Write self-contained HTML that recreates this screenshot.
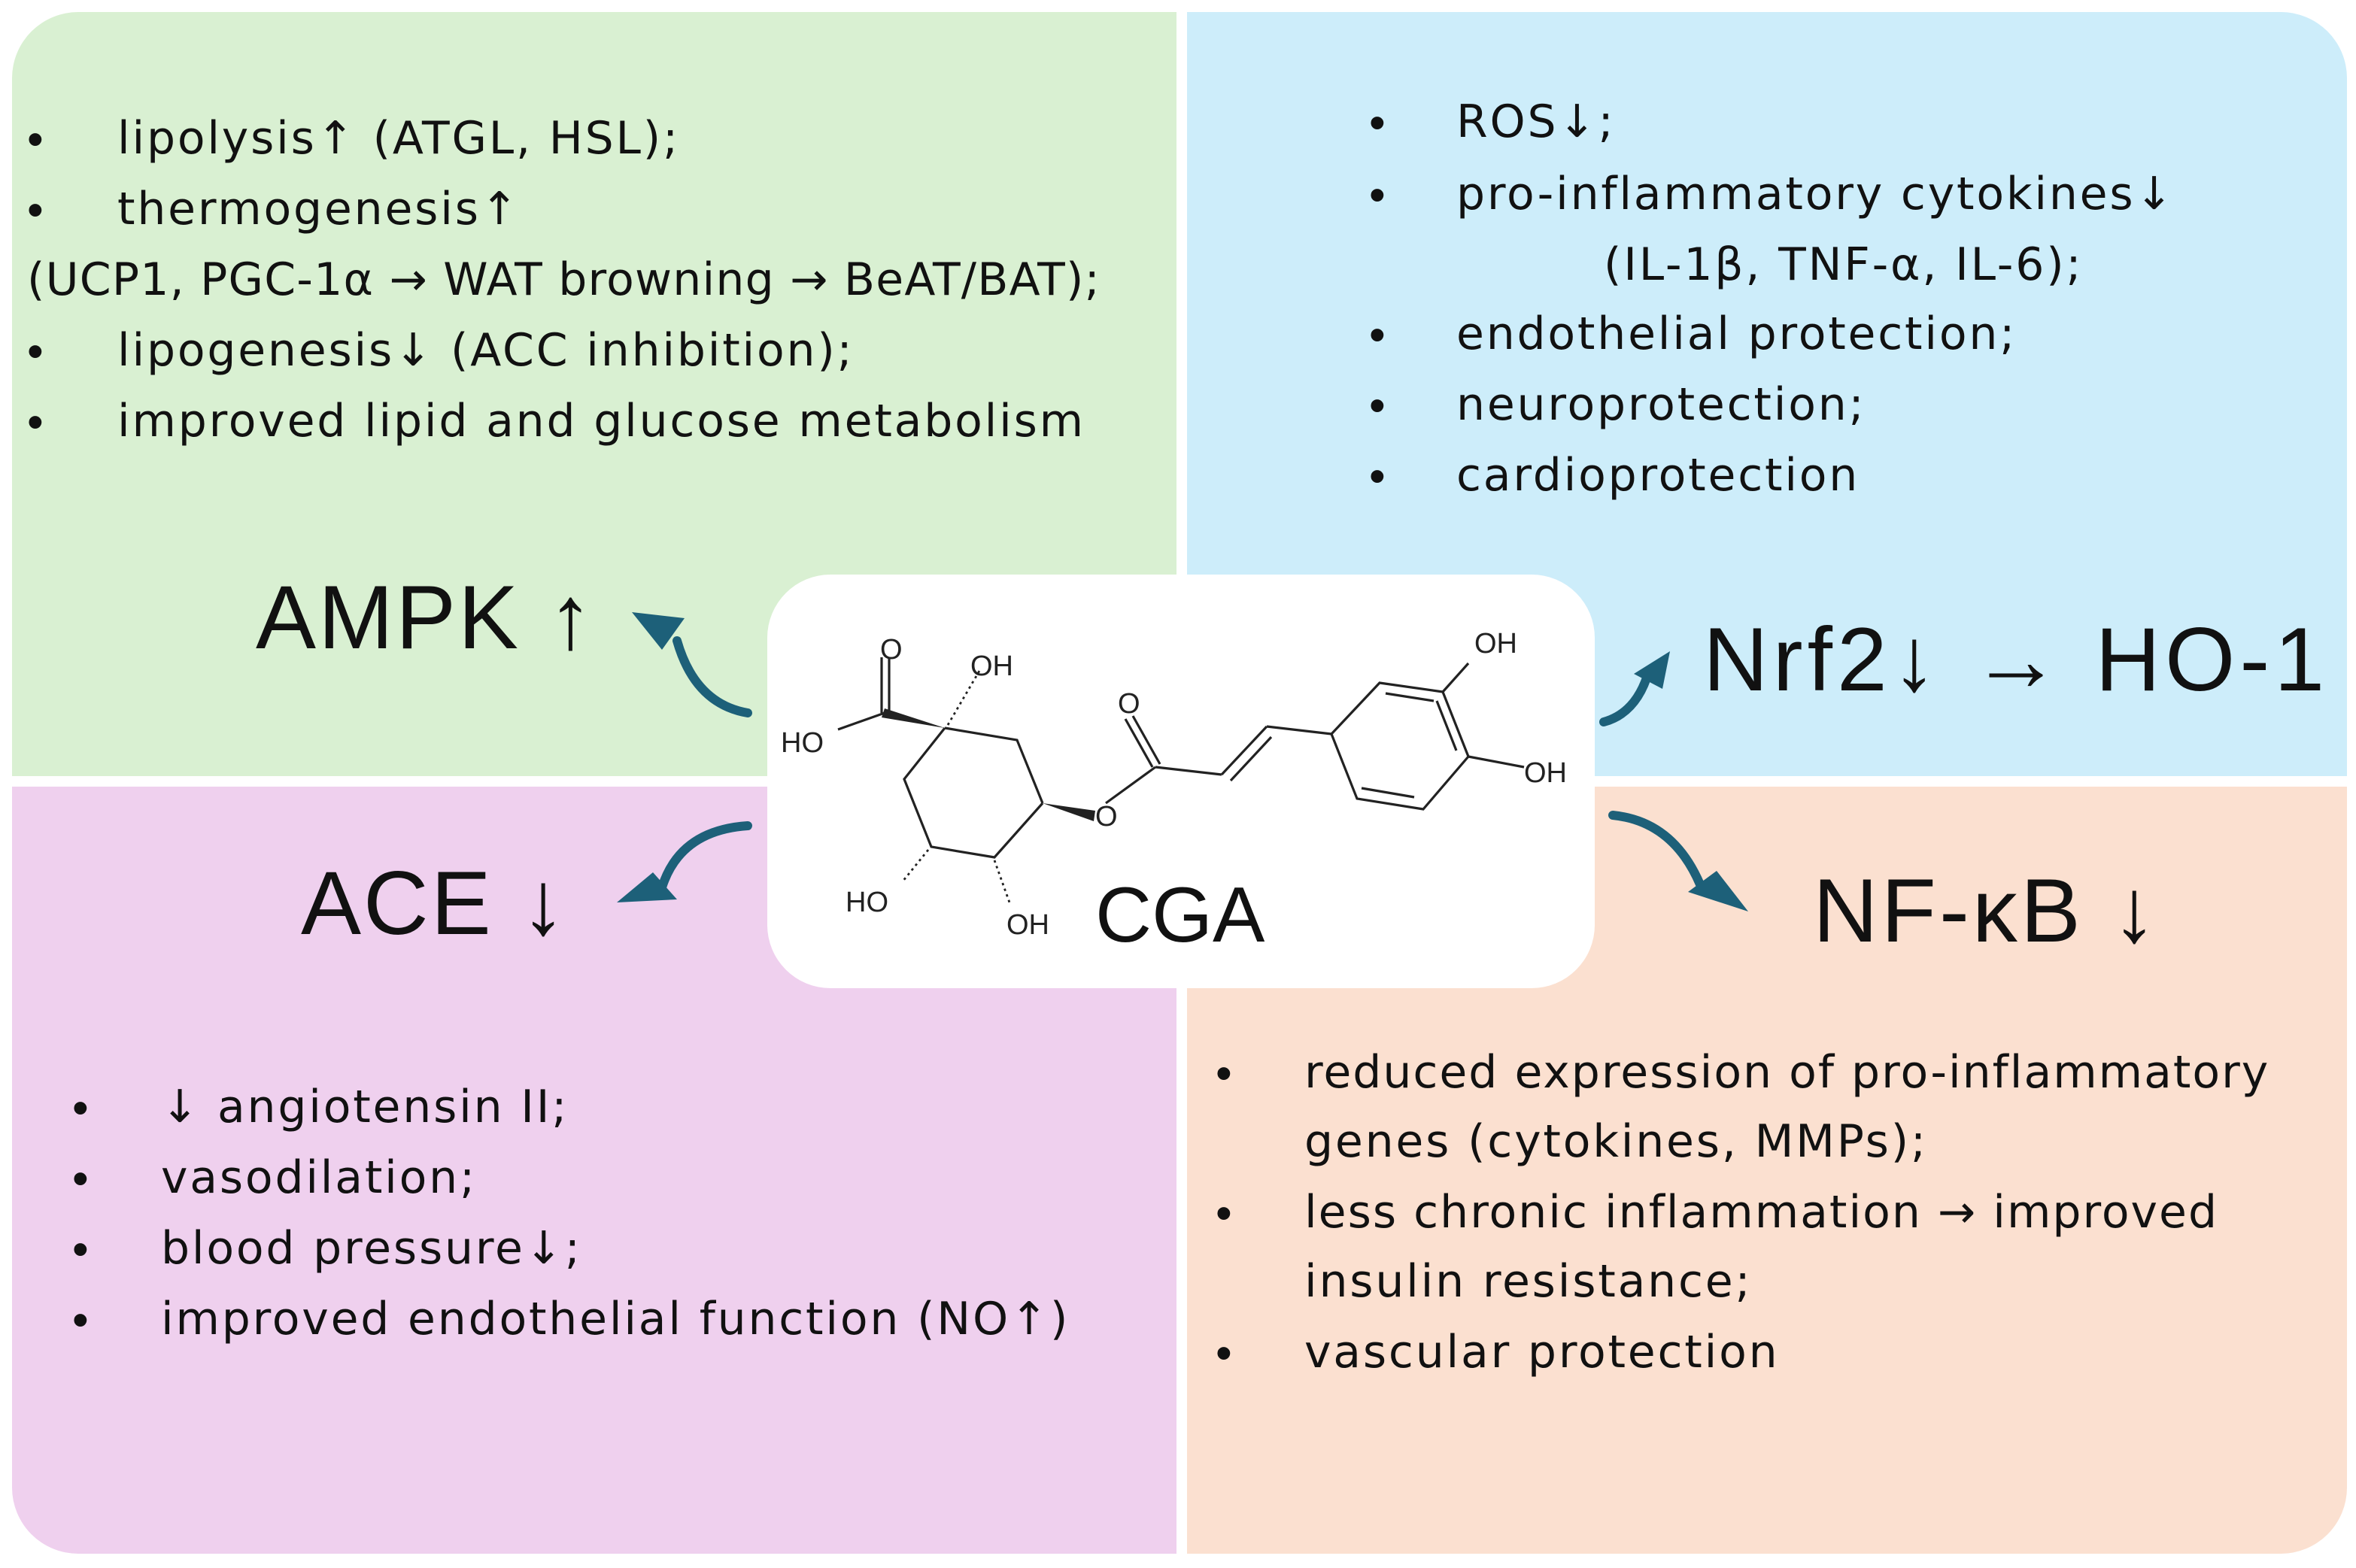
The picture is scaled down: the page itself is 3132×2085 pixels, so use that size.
<!DOCTYPE html>
<html><head><meta charset="utf-8"><style>
html,body{margin:0;padding:0;background:#fff;}
#w{width:3132px;height:2085px;overflow:hidden;position:relative;}
#s{position:absolute;left:0;top:0;width:1566px;height:1043px;transform:scale(2);transform-origin:0 0;font-family:"Liberation Sans","DejaVu Sans",sans-serif;color:#111;}
.p{position:absolute;}
.t{position:absolute;font-family:"DejaVu Sans",sans-serif;font-size:30px;letter-spacing:1.4px;line-height:36px;white-space:nowrap;}
.b{position:absolute;font-size:31px;line-height:36px;}
.big{position:absolute;font-size:60px;line-height:70px;white-space:nowrap;letter-spacing:1.5px;}
</style></head><body><div id="w"><div id="s">
<div class="p" style="left:8px;top:8px;width:774px;height:508px;background:#d9f0d2;border-top-left-radius:44px;"></div>
<div class="p" style="left:789px;top:8px;width:771px;height:508px;background:#cdedfa;border-top-right-radius:44px;"></div>
<div class="p" style="left:8px;top:523px;width:774px;height:510px;background:#efd0ee;border-bottom-left-radius:44px;"></div>
<div class="p" style="left:789px;top:523px;width:771px;height:510px;background:#fbe0d0;border-bottom-right-radius:44px;"></div>
<div class="p" style="left:510px;top:382px;width:550px;height:275px;background:#fff;border-radius:42px;"></div>

<div class="b" style="left:18px;top:75px">•</div><div class="t" style="left:78px;top:75px">lipolysis↑ (ATGL, HSL);</div>
<div class="b" style="left:18px;top:122px">•</div><div class="t" style="left:78px;top:122px">thermogenesis↑</div>
<div class="t" style="left:18px;top:169px;letter-spacing:0.6px">(UCP1, PGC-1α → WAT browning → BeAT/BAT);</div>
<div class="b" style="left:18px;top:216px">•</div><div class="t" style="left:78px;top:216px">lipogenesis↓ (ACC inhibition);</div>
<div class="b" style="left:18px;top:263px">•</div><div class="t" style="left:78px;top:263px">improved lipid and glucose metabolism</div>

<div class="b" style="left:910px;top:64px">•</div><div class="t" style="left:968px;top:64px">ROS↓;</div>
<div class="b" style="left:910px;top:112px">•</div><div class="t" style="left:968px;top:112px">pro-inflammatory cytokines↓</div>
<div class="t" style="left:1066px;top:159px">(IL-1β, TNF-α, IL-6);</div>
<div class="b" style="left:910px;top:205px">•</div><div class="t" style="left:968px;top:205px">endothelial protection;</div>
<div class="b" style="left:910px;top:252px">•</div><div class="t" style="left:968px;top:252px">neuroprotection;</div>
<div class="b" style="left:910px;top:299px">•</div><div class="t" style="left:968px;top:299px">cardioprotection</div>

<div class="b" style="left:48px;top:719px">•</div><div class="t" style="left:107px;top:719px">↓ angiotensin II;</div>
<div class="b" style="left:48px;top:766px">•</div><div class="t" style="left:107px;top:766px">vasodilation;</div>
<div class="b" style="left:48px;top:813px">•</div><div class="t" style="left:107px;top:813px">blood pressure↓;</div>
<div class="b" style="left:48px;top:860px">•</div><div class="t" style="left:107px;top:860px">improved endothelial function (NO↑)</div>

<div class="b" style="left:808px;top:696px">•</div><div class="t" style="left:867px;top:696px;letter-spacing:1px">reduced expression of pro-inflammatory</div>
<div class="t" style="left:867px;top:742px">genes (cytokines, MMPs);</div>
<div class="b" style="left:808px;top:789px">•</div><div class="t" style="left:867px;top:789px;letter-spacing:1px">less chronic inflammation → improved</div>
<div class="t" style="left:867px;top:835px">insulin resistance;</div>
<div class="b" style="left:808px;top:882px">•</div><div class="t" style="left:867px;top:882px">vascular protection</div>

<div class="big" style="left:170px;top:376px">AMPK ↑</div>
<div class="big" style="left:1132px;top:404px;letter-spacing:3px">Nrf2↓ → HO-1</div>
<div class="big" style="left:200px;top:566px">ACE ↓</div>
<div class="big" style="left:1205px;top:571px;letter-spacing:2px">NF-κB ↓</div>

<svg class="p" style="left:0;top:0" width="1566" height="1043" viewBox="0 0 1566 1043">
<g fill="none" stroke="#1d6079" stroke-width="6" stroke-linecap="round">
<path d="M497 474 Q462 468 450 426"/>
<path d="M1066 480 Q1088 474 1096 446"/>
<path d="M497 549 Q452 552 440 590"/>
<path d="M1072 542 Q1112 546 1130 588"/>
</g>
<g fill="#1d6079">
<polygon points="420,407 455,411 440,432"/>
<polygon points="1110,433 1105,458 1086,448"/>
<polygon points="410,600 434,580 450,598"/>
<polygon points="1162,606 1122,593 1141,579"/>
</g>
<g fill="none" stroke="#222" stroke-width="1.6">
<polyline points="628,484 676,492 693,534"/>
<polyline points="693,534 661,570 619,563 601,518 628,484"/>
<line x1="586" y1="474" x2="586" y2="437"/><line x1="591" y1="474" x2="591" y2="437"/>
<line x1="588" y1="474" x2="557" y2="485"/>
<line x1="735" y1="534" x2="768" y2="510"/>
<line x1="766" y1="510" x2="748" y2="478"/><line x1="771" y1="508" x2="753" y2="476"/>
<line x1="768" y1="510" x2="812" y2="515"/>
<line x1="812" y1="515" x2="842" y2="483"/><line x1="818" y1="519" x2="845" y2="490"/>
<line x1="842" y1="483" x2="885" y2="488"/>
<polygon points="885,488 917,454 959,460 976,503 946,538 902,531"/>
<line x1="921" y1="461" x2="953" y2="466"/>
<line x1="955" y1="466" x2="968" y2="499"/>
<line x1="905" y1="524" x2="940" y2="530"/>
<line x1="959" y1="460" x2="976" y2="441"/>
<line x1="976" y1="503" x2="1013" y2="510"/>
</g>
<polygon points="628,484 588,471 586,477" fill="#222"/>
<polygon points="693,534 728,539 727,546" fill="#222"/>
<g stroke="#222" stroke-width="1.4" stroke-dasharray="1.6 2.4">
<line x1="630" y1="482" x2="651" y2="446"/>
<line x1="617" y1="565" x2="600" y2="586"/>
<line x1="661" y1="572" x2="671" y2="600"/>
</g>
<g font-family="Liberation Sans, sans-serif" font-size="19" fill="#222">
<text x="585" y="438">O</text>
<text x="645" y="449">OH</text>
<text x="519" y="500">HO</text>
<text x="728" y="549">O</text>
<text x="743" y="474">O</text>
<text x="980" y="434">OH</text>
<text x="1013" y="520">OH</text>
<text x="562" y="606">HO</text>
<text x="669" y="621">OH</text>
</g>
<text x="728" y="626" font-family="Liberation Sans, sans-serif" font-size="52" fill="#111">CGA</text>
</svg>
</div></div></body></html>
